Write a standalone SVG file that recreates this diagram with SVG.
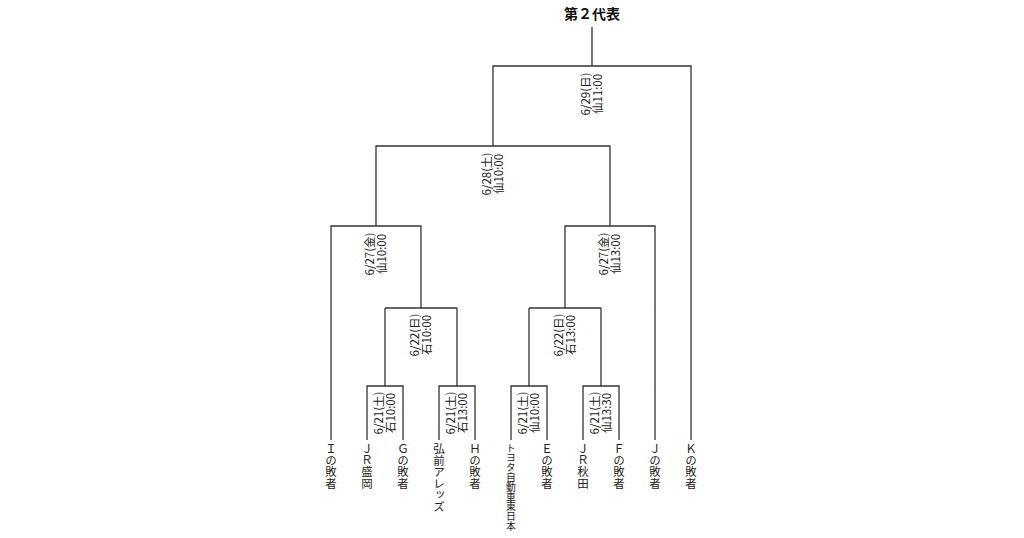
<svg xmlns="http://www.w3.org/2000/svg" width="1024" height="538" viewBox="0 0 1024 538">
<style>
.l{fill:none;stroke:#333;stroke-width:1.3}
.d{font-family:"Noto Sans CJK JP","Liberation Sans",sans-serif;font-size:11.5px;fill:#222;text-anchor:middle}
.t{font-family:"Noto Sans CJK JP",sans-serif;font-size:11.5px;fill:#222;writing-mode:vertical-rl;text-orientation:upright}
.h{font-family:"Noto Sans CJK JP",sans-serif;font-size:14px;font-weight:bold;fill:#111;text-anchor:middle}
</style>
<rect width="1024" height="538" fill="#fff"/>
<g id="connectors">
<path class="l" d="M331 440V226H421V308M385 308H457M385 308V386M367 440V386H403V440M457 308V386M439 440V386H475V440"/>
<path class="l" d="M655 440V226H565V308M529 308H601M529 308V386M511 440V386H547V440M601 308V386M583 440V386H619V440"/>
<path class="l" d="M376 226V146H610V226M493 146V66H691V440M493 66H592V27"/>
</g>
<g id="title"><text class="h" x="592" y="19">第２代表</text></g>
<g id="dates">
<g transform="translate(592,94) rotate(-90)"><text class="d" y="-2">6/29(日)</text><text class="d" y="10">仙11:00</text></g>
<g transform="translate(493,174) rotate(-90)"><text class="d" y="-2">6/28(土)</text><text class="d" y="10">仙10:00</text></g>
<g transform="translate(376,254) rotate(-90)"><text class="d" y="-2">6/27(金)</text><text class="d" y="10">仙10:00</text></g>
<g transform="translate(610,254) rotate(-90)"><text class="d" y="-2">6/27(金)</text><text class="d" y="10">仙13:00</text></g>
<g transform="translate(421,335) rotate(-90)"><text class="d" y="-2">6/22(日)</text><text class="d" y="10">石10:00</text></g>
<g transform="translate(565,335) rotate(-90)"><text class="d" y="-2">6/22(日)</text><text class="d" y="10">石13:00</text></g>
<g transform="translate(385,413) rotate(-90)"><text class="d" y="-2">6/21(土)</text><text class="d" y="10">石10:00</text></g>
<g transform="translate(457,413) rotate(-90)"><text class="d" y="-2">6/21(土)</text><text class="d" y="10">石13:00</text></g>
<g transform="translate(529,413) rotate(-90)"><text class="d" y="-2">6/21(土)</text><text class="d" y="10">仙10:00</text></g>
<g transform="translate(601,413) rotate(-90)"><text class="d" y="-2">6/21(土)</text><text class="d" y="10">仙13:30</text></g>
</g>
<g id="teams">
<text class="t" x="331" y="443">Ｉの敗者</text>
<text class="t" x="367" y="443">ＪＲ盛岡</text>
<text class="t" x="403" y="443">Ｇの敗者</text>
<text class="t" x="439" y="443">弘前アレッズ</text>
<text class="t" x="475" y="443">Ｈの敗者</text>
<text class="t" x="511" y="443" style="font-size:9.8px">トヨタ自動車東日本</text>
<text class="t" x="547" y="443">Ｅの敗者</text>
<text class="t" x="583" y="443">ＪＲ秋田</text>
<text class="t" x="619" y="443">Ｆの敗者</text>
<text class="t" x="655" y="443">Ｊの敗者</text>
<text class="t" x="691" y="443">Ｋの敗者</text>
</g>
</svg>
